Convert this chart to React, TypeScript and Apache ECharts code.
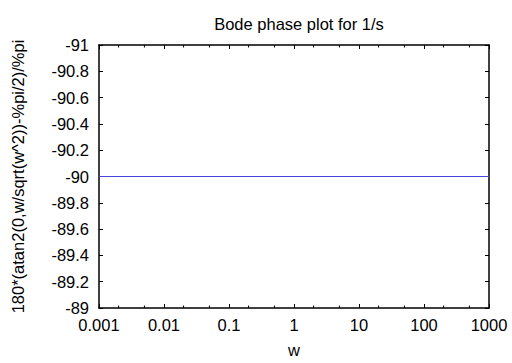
import React, { useEffect, useRef } from "react";
import * as echarts from "echarts";

const wValues = [0.001, 0.01, 0.1, 1, 10, 100, 1000];
const phaseValues = [-90, -90, -90, -90, -90, -90, -90];
const minorTicks = [
  0.002, 0.005, 0.02, 0.05, 0.2, 0.5, 2, 5, 20, 50, 200, 500,
];
const yTicks = { min: -91, max: -89, interval: 0.2 };
const xRange = { min: 0.001, max: 1000 };

const FONT = "'Liberation Sans', Arial, Helvetica, sans-serif";
const FS = 16.5;

export default function App() {
  const ref = useRef<HTMLDivElement>(null);
  useEffect(() => {
    if (!ref.current) return;
    const chart = echarts.init(ref.current, null, { renderer: "svg" });
    const axisLine = { show: true, lineStyle: { color: "#000", width: 1.5 } };
    const tick = { show: true, inside: true, length: 4, lineStyle: { color: "#000", width: 1 } };
    const xLabelFmt = (v: number) => String(+Number(v).toPrecision(6));
    const yLabelFmt = (v: number) => String(+Number(v).toFixed(1));
    const option = {
      animation: false,
      backgroundColor: "#fff",
      textStyle: { fontFamily: FONT },
      title: {
        text: "Bode phase plot for 1/s",
        left: 294,
        textAlign: "center",
        top: 10,
        textStyle: { fontSize: FS, fontWeight: "normal", color: "#000", fontFamily: FONT },
      },
      grid: { left: 99, right: 23, top: 45, bottom: 52 },
      xAxis: [
        {
          type: "log",
          logBase: 10,
          min: xRange.min,
          max: xRange.max,
          position: "bottom",
          axisLine,
          axisTick: tick,
          splitLine: { show: false },
          axisLabel: { color: "#000", fontSize: FS, margin: 8, fontFamily: FONT, formatter: xLabelFmt },
          name: "w",
          nameLocation: "middle",
          nameGap: 33,
          nameTextStyle: { color: "#000", fontSize: FS, fontFamily: FONT },
        },
        {
          type: "log",
          logBase: 10,
          min: xRange.min,
          max: xRange.max,
          position: "top",
          axisLine,
          axisTick: tick,
          splitLine: { show: false },
          axisLabel: { show: false },
        },
      ],
      yAxis: [
        {
          type: "value",
          inverse: true,
          min: yTicks.min,
          max: yTicks.max,
          interval: yTicks.interval,
          position: "left",
          axisLine,
          axisTick: tick,
          splitLine: { show: false },
          axisLabel: { color: "#000", fontSize: FS, margin: 10, fontFamily: FONT, formatter: yLabelFmt },
          name: "180*(atan2(0,w/sqrt(w^2))-%pi/2)/%pi",
          nameLocation: "middle",
          nameRotate: 90,
          nameGap: 73,
          nameTextStyle: { color: "#000", fontSize: FS, fontFamily: FONT },
        },
        {
          type: "value",
          inverse: true,
          min: yTicks.min,
          max: yTicks.max,
          interval: yTicks.interval,
          position: "right",
          axisLine,
          axisTick: tick,
          splitLine: { show: false },
          axisLabel: { show: false },
        },
      ],
      series: [
        {
          type: "line",
          xAxisIndex: 0,
          yAxisIndex: 0,
          data: wValues.map((w, i) => [w, phaseValues[i]]),
          symbol: "none",
          lineStyle: { color: "#4646dc", width: 1 },
        },
        {
          type: "custom",
          xAxisIndex: 0,
          yAxisIndex: 0,
          silent: true,
          clip: false,
          data: minorTicks.map((t) => [t]),
          renderItem: (params: any, api: any) => {
            const x = api.value(0);
            const bottom = api.coord([x, yTicks.max]);
            const top = api.coord([x, yTicks.min]);
            const style = { stroke: "#000", lineWidth: 1 };
            return {
              type: "group",
              children: [
                { type: "line", shape: { x1: bottom[0], y1: bottom[1], x2: bottom[0], y2: bottom[1] - 2.5 }, style },
                { type: "line", shape: { x1: top[0], y1: top[1], x2: top[0], y2: top[1] + 2.5 }, style },
              ],
            };
          },
        },
      ],
    };
    chart.setOption(option as any);
    return () => chart.dispose();
  }, []);
  return <div ref={ref} style={{ position: "fixed", left: 0, top: 0, width: 512, height: 363 }} />;
}
